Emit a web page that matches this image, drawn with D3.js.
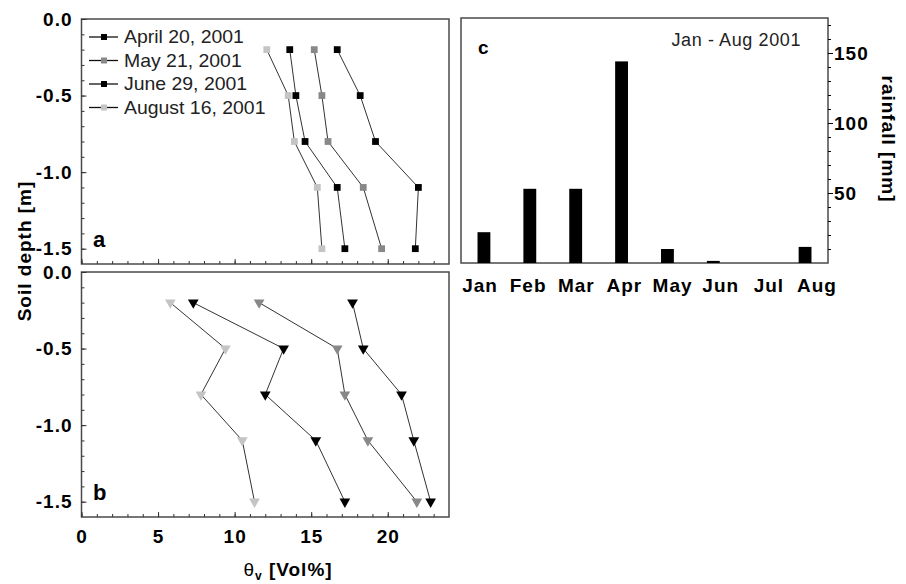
<!DOCTYPE html>
<html><head><meta charset="utf-8">
<script src="https://cdn.jsdelivr.net/npm/d3@7"></script>
<style>
html,body{margin:0;padding:0;background:#fff;}
svg{display:block;font-family:"Liberation Sans",Arial,sans-serif;}
</style></head>
<body>
<svg id="chart" width="906" height="584"></svg>
<script>
// ---------- data ----------
const depths = [-0.2, -0.5, -0.8, -1.1, -1.5];
const legendLabels = ["April 20, 2001", "May 21, 2001", "June 29, 2001", "August 16, 2001"];
const seriesColors = ["#000000", "#888888", "#000000", "#c4c4c4"];
// panel a (squares)
const aApr = [16.7, 18.2, 19.2, 22.0, 21.8];
const aMay = [15.2, 15.7, 16.1, 18.4, 19.6];
const aJun = [13.6, 14.0, 14.6, 16.7, 17.2];
const aAug = [12.1, 13.5, 13.9, 15.4, 15.7];
// panel b (down triangles)
const bApr = [17.7, 18.4, 20.9, 21.7, 22.8];
const bMay = [11.6, 16.7, 17.2, 18.7, 21.9];
const bJun = [7.3, 13.2, 12.0, 15.3, 17.2];
const bAug = [5.8, 9.4, 7.8, 10.5, 11.3];
// panel c
const months = ["Jan", "Feb", "Mar", "Apr", "May", "Jun", "Jul", "Aug"];
const rainfall = [22, 53, 53, 144, 10, 1.5, 0, 11.5];
const xTicks = [0, 5, 10, 15, 20];
const yTicks = [0, -0.5, -1.0, -1.5];
const rainTicks = [50, 100, 150];

// ---------- setup ----------
const svg = d3.select("#chart");
const FONT = '"Liberation Sans",Arial,sans-serif';
const x = d3.scaleLinear().domain([0, 24]).range([81.5, 449]);
const yA = d3.scaleLinear().domain([0, -1.6]).range([19, 264]);
const yB = d3.scaleLinear().domain([0, -1.6]).range([272, 517]);
const xC = d3.scaleBand().domain(months).range([461, 828]).paddingInner(0.72).paddingOuter(0.36);
const xCLab = d3.scalePoint().domain(months).range([480, 817]);
const yC = d3.scaleLinear().domain([0, 175]).range([263, 18]);
const fmtDepth = d => d3.format(".1f")(d).replace("−", "-");

function boldText(sel, size) {
  return sel.attr("font-size", size).attr("font-weight", "bold").attr("font-family", FONT)
    .attr("letter-spacing", 1).attr("fill", "#000");
}

function frame(x0, y0, x1, y1) {
  svg.append("rect").attr("x", x0).attr("y", y0).attr("width", x1 - x0).attr("height", y1 - y0)
    .attr("fill", "none").attr("stroke", "#4a4a4a").attr("stroke-width", 1.5);
}

function depthAxes(y, showX) {
  const gy = svg.append("g").attr("transform", `translate(${x.range()[0]},0)`)
    .call(d3.axisLeft(y).tickValues(yTicks).tickSize(-5).tickPadding(9).tickFormat(fmtDepth));
  gy.select(".domain").remove();
  boldText(gy.selectAll("text"), 19);
  gy.selectAll("line").attr("stroke", "#333");
  const gym = svg.append("g").attr("transform", `translate(${x.range()[0]},0)`)
    .call(d3.axisLeft(y).tickValues(d3.range(0, 16).map(i => -i / 10)).tickSize(-3).tickFormat(""));
  gym.select(".domain").remove();
  gym.selectAll("line").attr("stroke", "#333");
  const yb = y.range()[1];
  const gx = svg.append("g").attr("transform", `translate(0,${yb})`)
    .call(d3.axisBottom(x).tickValues(xTicks).tickSize(-5).tickPadding(13).tickFormat(showX ? d3.format("d") : ""));
  gx.select(".domain").remove();
  boldText(gx.selectAll("text"), 19);
  gx.selectAll("line").attr("stroke", "#333");
  const gxm = svg.append("g").attr("transform", `translate(0,${yb})`)
    .call(d3.axisBottom(x).tickValues(d3.range(0, 24)).tickSize(-3).tickFormat(""));
  gxm.select(".domain").remove();
  gxm.selectAll("line").attr("stroke", "#333");
}

function profile(vals, y, color, symbolType, rotate, size) {
  const pts = vals.map((v, i) => [x(v), y(depths[i])]);
  svg.append("path").attr("d", d3.line()(pts)).attr("fill", "none").attr("stroke", "#333").attr("stroke-width", 1);
  svg.append("g").selectAll("path").data(pts).join("path")
    .attr("d", d3.symbol(symbolType, size))
    .attr("transform", d => `translate(${d[0]},${d[1]}) rotate(${rotate})`)
    .attr("fill", color);
}

// ---------- panel a ----------
frame(x.range()[0], yA.range()[0], x.range()[1], yA.range()[1]);
depthAxes(yA, false);
[aApr, aMay, aJun, aAug].forEach((s, i) => profile(s, yA, seriesColors[i], d3.symbolSquare, 0, 46));
legendLabels.forEach((lab, i) => {
  const ly = 37 + i * 23.5;
  const g = svg.append("g");
  g.append("line").attr("x1", 89).attr("x2", 118).attr("y1", ly).attr("y2", ly).attr("stroke", "#111").attr("stroke-width", 1.3);
  g.append("path").attr("d", d3.symbol(d3.symbolSquare, 36)).attr("transform", `translate(104,${ly})`).attr("fill", seriesColors[i]);
  g.append("text").attr("x", 124).attr("y", ly + 6.5).attr("font-size", 18).attr("font-family", FONT)
    .attr("fill", "#222").attr("transform", `translate(${124 * -0.08},0) scale(1.08,1)`).text(lab);
});
svg.append("text").attr("x", 93).attr("y", 247).attr("font-size", 22).attr("font-weight", "bold").attr("font-family", FONT).text("a");

// ---------- panel b ----------
frame(x.range()[0], yB.range()[0], x.range()[1], yB.range()[1]);
depthAxes(yB, true);
const bColors = ["#000000", "#888888", "#000000", "#c4c4c4"];
[bApr, bMay, bJun, bAug].forEach((s, i) => profile(s, yB, bColors[i], d3.symbolTriangle, 180, 50));
svg.append("text").attr("x", 93).attr("y", 500).attr("font-size", 22).attr("font-weight", "bold").attr("font-family", FONT).text("b");

// axis titles
boldText(svg.append("text").attr("transform", "translate(31,251) rotate(-90)").attr("text-anchor", "middle"), 19)
  .text("Soil depth [m]");
const xt = svg.append("text").attr("x", 288).attr("y", 576).attr("text-anchor", "middle");
boldText(xt, 19);
xt.append("tspan").attr("font-weight", "normal").text("θ");
xt.append("tspan").attr("font-size", 12).attr("dy", 4).text("v");
xt.append("tspan").attr("dy", -4).text(" [Vol%]");

// ---------- panel c ----------
frame(461, 18, 828, 263);
svg.append("g").selectAll("rect").data(months.map((m, i) => ({m, v: rainfall[i]}))).join("rect")
  .attr("x", d => xC(d.m)).attr("width", xC.bandwidth())
  .attr("y", d => yC(d.v)).attr("height", d => yC(0) - yC(d.v)).attr("fill", "#000");
const gr = svg.append("g").attr("transform", "translate(828,0)")
  .call(d3.axisRight(yC).tickValues(rainTicks).tickSize(5).tickPadding(1));
gr.select(".domain").remove();
boldText(gr.selectAll("text"), 19);
const grm = svg.append("g").attr("transform", "translate(828,0)")
  .call(d3.axisRight(yC).tickValues(d3.range(10, 180, 10)).tickSize(3).tickFormat(""));
grm.select(".domain").remove();
boldText(svg.append("g").selectAll("text").data(months).join("text")
  .attr("x", d => xCLab(d)).attr("y", 292).attr("text-anchor", "middle"), 19).text(d => d);
svg.append("text").attr("x", 478).attr("y", 54).attr("font-size", 19).attr("font-weight", "bold").attr("font-family", FONT).text("c");
svg.append("text").attr("x", 801).attr("y", 46).attr("text-anchor", "end").attr("font-size", 18)
  .attr("font-family", FONT).attr("fill", "#222").attr("letter-spacing", 0.6).text("Jan - Aug 2001");
boldText(svg.append("text").attr("transform", "translate(882,139) rotate(90)").attr("text-anchor", "middle"), 19)
  .text("rainfall [mm]");
</script>
</body></html>
